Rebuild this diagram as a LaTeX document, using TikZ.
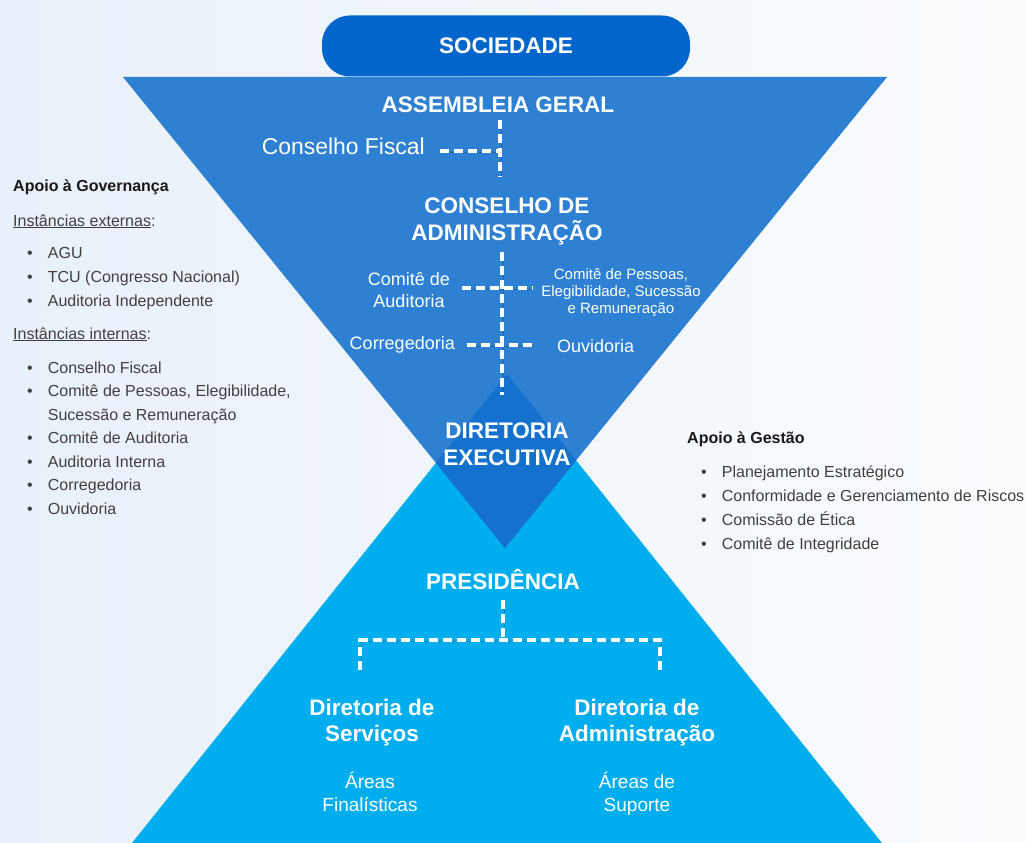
\documentclass[tikz,border=0pt]{standalone}
\usepackage{fontspec}
\setmainfont{Liberation Sans}
\usepackage{xcolor}
\definecolor{bgblue}{RGB}{232,240,249}
\definecolor{triblue}{RGB}{46,128,210}
\definecolor{socblue}{RGB}{0,102,204}
\definecolor{diablue}{RGB}{20,113,205}
\definecolor{cyanblue}{RGB}{0,174,239}
\newcommand\bul[1]{\hspace*{14pt}\makebox[20.7pt][l]{\textbullet}#1}
\tikzset{
headtxt/.style={text=white, font=\fontsize{22.5}{27}\selectfont\bfseries,
  align=center, anchor=base, inner sep=0pt},
subtxt/.style={text=white, font=\fontsize{18}{22}\selectfont,
  align=center, anchor=base, inner sep=0pt},
notetxt/.style={text=white, font=\fontsize{15}{17}\selectfont,
  align=center, anchor=base, inner sep=0pt},
sidetxt/.style={text=black!75, font=\fontsize{16}{23.5}\selectfont,
  align=left, anchor=base west, inner sep=0pt},
socbox/.style={fill=socblue, rounded corners=28pt, minimum width=368pt,
  minimum height=61pt, text=white, font=\fontsize{22.5}{27}\selectfont\bfseries},
dashlink/.style={draw=white, line width=3.5pt, dash pattern=on 9pt off 5pt,
  preaction={draw=black, opacity=0.2, transform canvas={shift={(1.2pt,-1.2pt)}}}},
}

\begin{document}
\begin{tikzpicture}[x=1pt,y=-1pt]
\useasboundingbox (0,0) rectangle (1026,843);
\shade[left color=bgblue, right color=bgblue!20] (0,0) rectangle (1026,843);
% the two triangles
\coordinate (tl) at (123,77);
\coordinate (tr) at (887,77);
\coordinate (tb) at (505,548);
\coordinate (bt) at (507,374);
\coordinate (bl) at (132,843);
\coordinate (br) at (882,843);
\fill[cyanblue] (bt) -- (bl) -- (br) -- cycle;
\fill[triblue] (tl) -- (tr) -- (tb) -- cycle;
\begin{scope}
\clip (tl) -- (tr) -- (tb) -- cycle;
\fill[diablue] (bt) -- (bl) -- (br) -- cycle;
\end{scope}
% the top part (base = last line)
\node[socbox] (soc) at (506,46) {SOCIEDADE};
\node[headtxt] (assem) at (498,112) {ASSEMBLEIA GERAL};
\node[subtxt, anchor=base east, font=\fontsize{22.9}{27}\selectfont] (fiscal) at (425,154) {Conselho Fiscal};
\node[headtxt] (consadm) at (507,240) {CONSELHO DE\\ADMINISTRAÇÃO};
\node[subtxt] (comaud) at (409,307) {Comitê de\\Auditoria};
\node[notetxt] (compes) at (621,313) {Comitê de Pessoas,\\Elegibilidade, Sucessão\\e Remuneração};
\node[subtxt, anchor=base east] (correg) at (455,349) {Corregedoria};
\node[subtxt, anchor=base west] (ouvid) at (557,352) {Ouvidoria};
\node[headtxt] (direx) at (507,465) {DIRETORIA\\EXECUTIVA};
% the bottom part
\node[headtxt] (presid) at (503,589) {PRESIDÊNCIA};
\node[headtxt, font=\fontsize{22.5}{26}\selectfont\bfseries] (dserv) at (372,741) {Diretoria de\\Serviços};
\node[headtxt, font=\fontsize{22.5}{26}\selectfont\bfseries] (dadm) at (637,741) {Diretoria de\\Administração};
\node[subtxt, font=\fontsize{19}{23}\selectfont] (afin) at (370,811) {Áreas\\Finalísticas};
\node[subtxt, font=\fontsize{19}{23}\selectfont] (asup) at (637,811) {Áreas de\\Suporte};
% the side lists
\node[sidetxt] (gov) at (13,514) {%
\textcolor{black!90}{\textbf{Apoio à Governança}}\\[11.5pt]
\underline{Instâncias externas}:\\[8.5pt]
\bul{AGU}\\[0.5pt]
\bul{TCU (Congresso Nacional)}\\[0.5pt]
\bul{Auditoria Independente}\\[9.5pt]
\underline{Instâncias internas}:\\[10.5pt]
\bul{Conselho Fiscal}\\
\bul{Comitê de Pessoas, Elegibilidade,}\\
\hspace*{34.7pt}Sucessão e Remuneração\\
\bul{Comitê de Auditoria}\\
\bul{Auditoria Interna}\\
\bul{Corregedoria}\\
\bul{Ouvidoria}};
\node[sidetxt] (gest) at (687,549) {%
\textcolor{black!90}{\textbf{Apoio à Gestão}}\\[10.5pt]
\bul{Planejamento Estratégico}\\[0.5pt]
\bul{Conformidade e Gerenciamento de Riscos}\\[0.5pt]
\bul{Comissão de Ética}\\[0.5pt]
\bul{Comitê de Integridade}};
% the dashed links
\coordinate (jfis) at (500,151);
\coordinate (jaud) at (502,288);
\coordinate (jcor) at (502,345);
\coordinate (kl) at (360,640);
\coordinate (kr) at (660,640);
\draw[dashlink, shorten <=8pt, shorten >=20pt] (assem.south -| jfis) -- (consadm.north -| jfis);
\draw[dashlink, shorten <=15pt] (fiscal.east |- jfis) -- (jfis);
\draw[dashlink, shorten <=7pt, shorten >=27pt] (consadm.south -| jaud) -- (direx.north -| jaud);
\draw[dashlink, shorten <=12pt, shorten >=8pt] (comaud.east |- jaud) -- (compes.west |- jaud);
\draw[dashlink, shorten <=12pt, shorten >=24pt] (correg.east |- jcor) -- (ouvid.west |- jcor);
\draw[dashlink, shorten <=11pt] (presid.south) -- (presid.south |- kl);
\draw[dashlink, shorten <=29pt, shorten >=29pt] (kl |- dserv.north) -- (kl) -- (kr) -- (kr |- dadm.north);
\end{tikzpicture}
\end{document}
